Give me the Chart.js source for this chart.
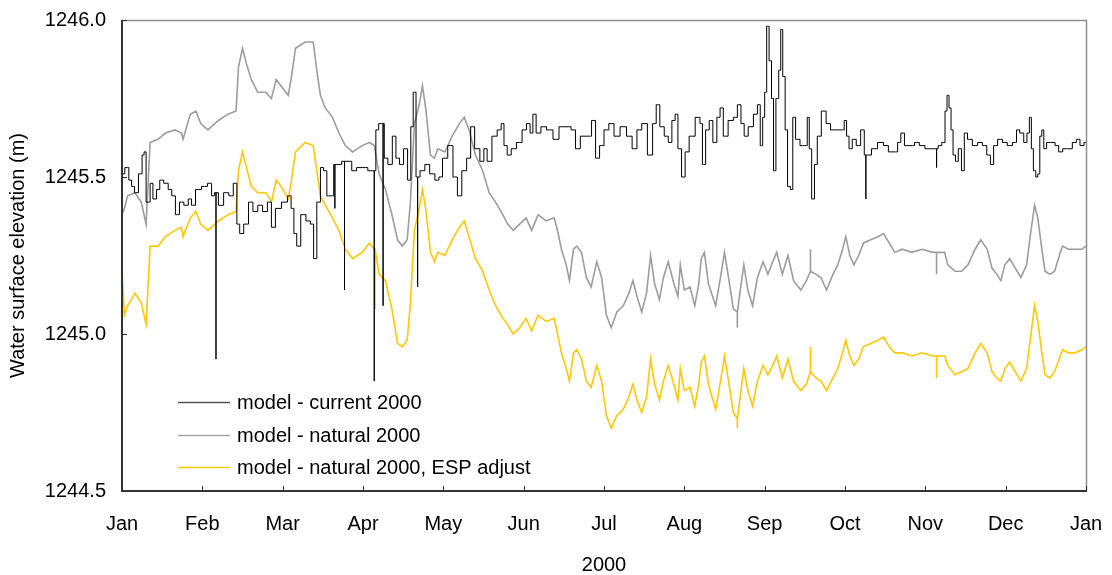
<!DOCTYPE html>
<html>
<head>
<meta charset="utf-8">
<title>Water surface elevation 2000</title>
<script src="https://cdn.jsdelivr.net/npm/chart.js@4.4.1/dist/chart.umd.min.js"></script>
<style>
  html, body { margin: 0; padding: 0; background: #fff; }
  canvas { display: block; }
</style>
</head>
<body>
<canvas id="levels" width="1112" height="575"></canvas>
<script>
// month ticks along the bottom (0 = 1 Jan 2000, 12 = 1 Jan 2001)
const monthLabels = ['Jan', 'Feb', 'Mar', 'Apr', 'May', 'Jun', 'Jul', 'Aug', 'Sep', 'Oct', 'Nov', 'Dec', 'Jan'];

// model - current 2000 (time in months, level in m)
const curT = [
  0.00, 0.07, 0.10, 0.14, 0.17, 0.24, 0.26, 0.29, 0.31, 0.34,
  0.36, 0.41, 0.45, 0.49, 0.55, 0.60, 0.64, 0.69, 0.74, 0.80,
  0.85, 0.88, 0.95, 1.03, 1.10, 1.13, 1.17, 1.23, 1.30, 1.36,
  1.41, 1.45, 1.48, 1.55, 1.60, 1.66, 1.72, 1.78, 1.84, 1.88,
  1.94, 2.03, 2.09, 2.12, 2.16, 2.19, 2.26, 2.32, 2.37, 2.40,
  2.45, 2.49, 2.53, 2.57, 2.62, 2.65, 2.70, 2.77, 2.83, 2.89,
  2.95, 3.03, 3.09, 3.14, 3.18, 3.21, 3.25, 3.28, 3.34, 3.39,
  3.43, 3.48, 3.53, 3.58, 3.61, 3.64, 3.68, 3.74, 3.80, 3.86,
  3.93, 3.96, 4.02, 4.09, 4.15, 4.20, 4.26, 4.32, 4.36, 4.42,
  4.49, 4.52, 4.57, 4.64, 4.70, 4.74, 4.77, 4.82, 4.87, 4.95,
  5.01, 5.06, 5.10, 5.13, 5.18, 5.25, 5.32, 5.41, 5.47, 5.56,
  5.62, 5.67, 5.74, 5.82, 5.87, 5.92, 5.97, 6.03, 6.09, 6.16,
  6.24, 6.32, 6.38, 6.44, 6.50, 6.58, 6.63, 6.67, 6.72, 6.78,
  6.82, 6.87, 6.90, 6.94, 6.99, 7.03, 7.09, 7.18, 7.21, 7.24,
  7.29, 7.33, 7.38, 7.43, 7.46, 7.51, 7.58, 7.64, 7.68, 7.73,
  7.76, 7.83, 7.89, 7.93, 7.96, 7.99, 8.01, 8.04, 8.07, 8.10,
  8.12, 8.16, 8.19, 8.21, 8.24, 8.27, 8.30, 8.34, 8.36, 8.41,
  8.47, 8.52, 8.54, 8.57, 8.60, 8.64, 8.67, 8.74, 8.79, 8.85,
  8.91, 8.97, 9.01, 9.03, 9.07, 9.11, 9.17, 9.22, 9.26, 9.30,
  9.36, 9.45, 9.51, 9.57, 9.63, 9.68, 9.71, 9.77, 9.84, 9.89,
  9.96, 10.03, 10.09, 10.14, 10.18, 10.23, 10.26, 10.28, 10.31, 10.33,
  10.36, 10.39, 10.43, 10.47, 10.50, 10.55, 10.62, 10.68, 10.74, 10.79,
  10.83, 10.87, 10.93, 10.99, 11.05, 11.12, 11.15, 11.20, 11.25, 11.28,
  11.31, 11.33, 11.36, 11.39, 11.41, 11.44, 11.46, 11.49, 11.53, 11.59,
  11.64, 11.68, 11.74, 11.80, 11.86, 11.90, 11.95, 12.00
];
const curV = [
  1245.51, 1245.53, 1245.49, 1245.47, 1245.45, 1245.51, 1245.57, 1245.58, 1245.42, 1245.42,
  1245.48, 1245.43, 1245.46, 1245.49, 1245.48, 1245.46, 1245.44, 1245.38, 1245.42, 1245.41,
  1245.43, 1245.41, 1245.46, 1245.47, 1245.48, 1245.44, 1245.45, 1245.41, 1245.45, 1245.44,
  1245.48, 1245.35, 1245.32, 1245.35, 1245.42, 1245.39, 1245.41, 1245.39, 1245.42, 1245.34,
  1245.40, 1245.42, 1245.44, 1245.40, 1245.32, 1245.28, 1245.38, 1245.36, 1245.35, 1245.24,
  1245.42, 1245.53, 1245.52, 1245.44, 1245.44, 1245.54, 1245.54, 1245.55, 1245.55, 1245.52,
  1245.53, 1245.53, 1245.52, 1245.52, 1245.65, 1245.67, 1245.67, 1245.56, 1245.54, 1245.63,
  1245.56, 1245.54, 1245.59, 1245.49, 1245.66, 1245.77, 1245.50, 1245.52, 1245.54, 1245.51,
  1245.49, 1245.50, 1245.56, 1245.60, 1245.50, 1245.44, 1245.52, 1245.56, 1245.66, 1245.59,
  1245.55, 1245.59, 1245.55, 1245.63, 1245.65, 1245.67, 1245.60, 1245.57, 1245.59, 1245.61,
  1245.65, 1245.67, 1245.64, 1245.70, 1245.64, 1245.66, 1245.65, 1245.62, 1245.66, 1245.66,
  1245.65, 1245.59, 1245.63, 1245.63, 1245.68, 1245.56, 1245.60, 1245.65, 1245.67, 1245.63,
  1245.66, 1245.63, 1245.59, 1245.65, 1245.67, 1245.57, 1245.67, 1245.73, 1245.66, 1245.63,
  1245.61, 1245.68, 1245.70, 1245.59, 1245.50, 1245.58, 1245.63, 1245.69, 1245.67, 1245.54,
  1245.65, 1245.68, 1245.61, 1245.69, 1245.72, 1245.63, 1245.68, 1245.69, 1245.73, 1245.67,
  1245.63, 1245.66, 1245.70, 1245.73, 1245.60, 1245.69, 1245.77, 1245.98, 1245.87, 1245.75,
  1245.52, 1245.75, 1245.84, 1245.97, 1245.82, 1245.65, 1245.47, 1245.46, 1245.69, 1245.62,
  1245.60, 1245.60, 1245.69, 1245.59, 1245.43, 1245.54, 1245.63, 1245.71, 1245.67, 1245.65,
  1245.65, 1245.65, 1245.68, 1245.63, 1245.59, 1245.62, 1245.60, 1245.65, 1245.57, 1245.57,
  1245.59, 1245.61, 1245.60, 1245.58, 1245.58, 1245.61, 1245.64, 1245.60, 1245.60, 1245.61,
  1245.60, 1245.59, 1245.59, 1245.59, 1245.60, 1245.61, 1245.71, 1245.76, 1245.72, 1245.65,
  1245.57, 1245.55, 1245.59, 1245.52, 1245.64, 1245.62, 1245.60, 1245.61, 1245.60, 1245.57,
  1245.54, 1245.60, 1245.62, 1245.61, 1245.60, 1245.61, 1245.65, 1245.64, 1245.61, 1245.64,
  1245.69, 1245.59, 1245.52, 1245.50, 1245.51, 1245.63, 1245.65, 1245.59, 1245.61, 1245.61,
  1245.60, 1245.58, 1245.59, 1245.59, 1245.61, 1245.62, 1245.60, 1245.61
];
// single-hour drops/jumps in the current run
const curSpikeT = [1.17, 2.65, 2.77, 3.14, 3.25, 3.68, 9.26, 10.14];
const curSpikeV = [1244.92, 1245.40, 1245.14, 1244.85, 1245.09, 1245.15, 1245.43, 1245.53];

// model - natural 2000 and the ESP-adjusted version share the same time steps
const natT = [
  0.00, 0.03, 0.07, 0.16, 0.24, 0.30, 0.35, 0.45, 0.54, 0.66,
  0.74, 0.76, 0.85, 0.92, 0.98, 1.07, 1.20, 1.32, 1.42, 1.45,
  1.50, 1.55, 1.61, 1.69, 1.79, 1.86, 1.92, 1.98, 2.07, 2.11,
  2.16, 2.28, 2.38, 2.43, 2.47, 2.53, 2.62, 2.70, 2.78, 2.87,
  2.99, 3.08, 3.14, 3.20, 3.28, 3.36, 3.43, 3.49, 3.55, 3.59,
  3.64, 3.70, 3.74, 3.78, 3.84, 3.89, 3.93, 4.02, 4.11, 4.20,
  4.26, 4.32, 4.40, 4.49, 4.57, 4.65, 4.74, 4.80, 4.87, 4.95,
  5.03, 5.10, 5.18, 5.28, 5.38, 5.43, 5.47, 5.53, 5.57, 5.62,
  5.66, 5.72, 5.78, 5.84, 5.91, 5.97, 6.03, 6.09, 6.16, 6.24,
  6.31, 6.36, 6.41, 6.47, 6.53, 6.58, 6.63, 6.69, 6.74, 6.80,
  6.87, 6.92, 6.95, 7.00, 7.07, 7.13, 7.18, 7.21, 7.25, 7.30,
  7.39, 7.45, 7.50, 7.55, 7.61, 7.66, 7.74, 7.79, 7.85, 7.91,
  7.98, 8.04, 8.10, 8.15, 8.22, 8.29, 8.36, 8.45, 8.52, 8.57,
  8.64, 8.70, 8.77, 8.85, 8.91, 8.97, 9.01, 9.06, 9.11, 9.17,
  9.23, 9.32, 9.41, 9.48, 9.55, 9.62, 9.71, 9.83, 9.96, 10.09,
  10.24, 10.28, 10.37, 10.45, 10.53, 10.62, 10.69, 10.77, 10.83, 10.89,
  10.94, 10.99, 11.05, 11.12, 11.19, 11.26, 11.31, 11.36, 11.40, 11.45,
  11.49, 11.55, 11.61, 11.68, 11.71, 11.78, 11.86, 11.95, 12.00
];
const natV = [
  1245.38, 1245.40, 1245.44, 1245.45, 1245.42, 1245.35, 1245.61, 1245.62, 1245.64, 1245.65,
  1245.64, 1245.62, 1245.70, 1245.71, 1245.67, 1245.65, 1245.68, 1245.70, 1245.71, 1245.85,
  1245.91, 1245.86, 1245.81, 1245.77, 1245.77, 1245.75, 1245.81, 1245.79, 1245.76, 1245.82,
  1245.91, 1245.93, 1245.93, 1245.83, 1245.76, 1245.72, 1245.69, 1245.64, 1245.60, 1245.58,
  1245.60, 1245.61, 1245.60, 1245.51, 1245.46, 1245.38, 1245.30, 1245.28, 1245.30, 1245.42,
  1245.67, 1245.73, 1245.79, 1245.72, 1245.57, 1245.56, 1245.59, 1245.58, 1245.63, 1245.67,
  1245.69, 1245.65, 1245.57, 1245.52, 1245.45, 1245.42, 1245.38, 1245.35, 1245.33, 1245.35,
  1245.37, 1245.33, 1245.38, 1245.36, 1245.37, 1245.32, 1245.27, 1245.22, 1245.17, 1245.27,
  1245.28, 1245.26, 1245.18, 1245.15, 1245.23, 1245.18, 1245.06, 1245.02, 1245.07, 1245.09,
  1245.13, 1245.17, 1245.12, 1245.07, 1245.13, 1245.25, 1245.16, 1245.11, 1245.18, 1245.23,
  1245.16, 1245.12, 1245.22, 1245.14, 1245.15, 1245.09, 1245.16, 1245.24, 1245.26, 1245.16,
  1245.09, 1245.18, 1245.26, 1245.18, 1245.08, 1245.07, 1245.22, 1245.14, 1245.09, 1245.18,
  1245.23, 1245.19, 1245.23, 1245.26, 1245.19, 1245.25, 1245.17, 1245.14, 1245.17, 1245.20,
  1245.19, 1245.18, 1245.14, 1245.19, 1245.22, 1245.27, 1245.31, 1245.25, 1245.22, 1245.25,
  1245.29, 1245.30, 1245.31, 1245.32, 1245.29, 1245.26, 1245.27, 1245.26, 1245.27, 1245.26,
  1245.26, 1245.22, 1245.20, 1245.20, 1245.22, 1245.27, 1245.30, 1245.27, 1245.21, 1245.19,
  1245.17, 1245.22, 1245.24, 1245.21, 1245.18, 1245.22, 1245.32, 1245.41, 1245.37, 1245.27,
  1245.20, 1245.19, 1245.20, 1245.26, 1245.28, 1245.27, 1245.27, 1245.27, 1245.28
];
const espV = [
  1245.20, 1245.06, 1245.09, 1245.13, 1245.10, 1245.03, 1245.28, 1245.28, 1245.31, 1245.33,
  1245.34, 1245.31, 1245.37, 1245.39, 1245.35, 1245.33, 1245.36, 1245.38, 1245.39, 1245.52,
  1245.58, 1245.53, 1245.47, 1245.45, 1245.45, 1245.42, 1245.49, 1245.47, 1245.43, 1245.49,
  1245.58, 1245.61, 1245.60, 1245.51, 1245.44, 1245.41, 1245.37, 1245.33, 1245.27, 1245.24,
  1245.26, 1245.29, 1245.27, 1245.19, 1245.17, 1245.08, 1244.97, 1244.96, 1244.98, 1245.10,
  1245.33, 1245.40, 1245.46, 1245.40, 1245.26, 1245.23, 1245.26, 1245.25, 1245.30, 1245.34,
  1245.36, 1245.31, 1245.24, 1245.20, 1245.14, 1245.09, 1245.05, 1245.03, 1245.00, 1245.02,
  1245.05, 1245.01, 1245.06, 1245.04, 1245.05, 1244.99, 1244.94, 1244.89, 1244.85, 1244.94,
  1244.95, 1244.92, 1244.85, 1244.83, 1244.90, 1244.85, 1244.74, 1244.70, 1244.74, 1244.76,
  1244.80, 1244.84, 1244.79, 1244.75, 1244.80, 1244.92, 1244.84, 1244.79, 1244.85, 1244.90,
  1244.84, 1244.79, 1244.89, 1244.82, 1244.83, 1244.77, 1244.84, 1244.91, 1244.93, 1244.84,
  1244.76, 1244.85, 1244.93, 1244.85, 1244.75, 1244.73, 1244.89, 1244.82, 1244.77, 1244.85,
  1244.90, 1244.87, 1244.90, 1244.93, 1244.86, 1244.92, 1244.85, 1244.82, 1244.84, 1244.88,
  1244.86, 1244.85, 1244.82, 1244.86, 1244.89, 1244.94, 1244.98, 1244.93, 1244.90, 1244.92,
  1244.96, 1244.97, 1244.98, 1244.99, 1244.96, 1244.94, 1244.94, 1244.93, 1244.94, 1244.93,
  1244.93, 1244.90, 1244.87, 1244.88, 1244.89, 1244.94, 1244.97, 1244.94, 1244.88, 1244.86,
  1244.85, 1244.89, 1244.91, 1244.88, 1244.85, 1244.89, 1244.99, 1245.09, 1245.04, 1244.94,
  1244.87, 1244.86, 1244.88, 1244.93, 1244.95, 1244.94, 1244.94, 1244.95, 1244.96
];
const natSpikeT = [7.66, 8.57, 10.14];
const natSpikeV = [1245.02, 1245.27, 1245.19];
const espSpikeT = [3.15, 7.66, 8.57, 10.14];
const espSpikeV = [1245.08, 1244.70, 1244.96, 1244.86];

// turn a time/level pair of arrays into {x, y} points and drop the
// one-step spikes in as vertical excursions from the running level
function series(ts, vs, spikeT, spikeV) {
  const pts = ts.map((t, i) => ({ x: t, y: vs[i] }));
  spikeT.forEach((t, k) => {
    let i = pts.findIndex(p => p.x > t);
    if (i < 0) i = pts.length;
    const base = pts[i - 1].y;
    pts.splice(i, 0, { x: t, y: base }, { x: t, y: spikeV[k] }, { x: t, y: base });
  });
  return pts;
}

const FONT = "'Liberation Sans', Arial, sans-serif";

// frame: thin grey top/right, dark left/bottom axes, short inward ticks
const frame = {
  id: 'frame',
  afterDatasetsDraw(chart) {
    const { ctx, chartArea: a, scales } = chart;
    ctx.save();
    ctx.strokeStyle = '#8e8e8e';
    ctx.lineWidth = 1.5;
    ctx.beginPath();
    ctx.moveTo(a.left, a.top + 0.5);
    ctx.lineTo(a.right + 0.5, a.top + 0.5);
    ctx.lineTo(a.right + 0.5, a.bottom);
    ctx.stroke();

    ctx.strokeStyle = '#333';
    ctx.lineWidth = 2;
    ctx.beginPath();
    ctx.moveTo(a.left, a.top);
    ctx.lineTo(a.left, a.bottom);
    ctx.lineTo(a.right + 1, a.bottom);
    ctx.stroke();

    ctx.lineWidth = 1;
    ctx.beginPath();
    scales.x.ticks.forEach(t => {
      const px = Math.round(scales.x.getPixelForValue(t.value)) + 0.5;
      ctx.moveTo(px, a.bottom);
      ctx.lineTo(px, a.bottom - 5);
    });
    scales.y.ticks.forEach(t => {
      const py = Math.round(scales.y.getPixelForValue(t.value)) + 0.5;
      ctx.moveTo(a.left, py);
      ctx.lineTo(a.left + 5, py);
    });
    ctx.stroke();
    ctx.restore();
  }
};

// legend sits inside the plot, lower left
const insetLegend = {
  id: 'insetLegend',
  afterDraw(chart) {
    const { ctx, chartArea: a } = chart;
    const rows = [a.bottom - 89, a.bottom - 56, a.bottom - 24];
    ctx.save();
    ctx.font = '20px ' + FONT;
    ctx.textBaseline = 'middle';
    ctx.fillStyle = '#000';
    chart.data.datasets.forEach((ds, i) => {
      const y = Math.round(rows[i]) + 0.5;
      ctx.strokeStyle = ds.legendColor;
      ctx.lineWidth = 1.4;
      ctx.beginPath();
      ctx.moveTo(a.left + 56, y);
      ctx.lineTo(a.left + 108, y);
      ctx.stroke();
      ctx.fillText(ds.label, a.left + 115, y + 1);
    });
    ctx.restore();
  }
};

new Chart(document.getElementById('levels'), {
  type: 'line',
  data: {
    datasets: [
      {
        label: 'model - current 2000',
        data: series(curT, curV, curSpikeT, curSpikeV),
        borderColor: '#000',
        legendColor: '#555',
        borderWidth: 1,
        stepped: 'middle'
      },
      {
        label: 'model - natural 2000',
        data: series(natT, natV, natSpikeT, natSpikeV),
        borderColor: '#9d9d9d',
        legendColor: '#a8a8a8',
        borderWidth: 1.6
      },
      {
        label: 'model - natural 2000, ESP adjust',
        data: series(natT, espV, espSpikeT, espSpikeV),
        borderColor: '#ffc800',
        legendColor: '#ffc800',
        borderWidth: 1.6
      }
    ]
  },
  options: {
    responsive: false,
    animation: false,
    devicePixelRatio: 1,
    parsing: false,
    layout: { padding: { top: 9, right: 26, left: 0, bottom: 0 } },
    elements: { point: { radius: 0 }, line: { tension: 0 } },
    plugins: { legend: { display: false }, tooltip: { enabled: false } },
    scales: {
      x: {
        type: 'linear',
        min: 0,
        max: 12,
        afterFit(s) {
          s.height = 84;
          s.paddingRight = 0;
        },
        border: { display: false },
        grid: { display: false },
        ticks: {
          stepSize: 1,
          autoSkip: false,
          maxRotation: 0,
          padding: 13,
          color: '#000',
          font: { family: FONT, size: 20 },
          callback: v => monthLabels[v]
        },
        title: {
          display: true,
          text: '2000',
          color: '#000',
          padding: 0,
          font: { family: FONT, size: 20, lineHeight: 1 }
        }
      },
      y: {
        min: 1244.5,
        max: 1246.0,
        afterFit(s) { s.width = 122; },
        border: { display: false },
        grid: { display: false },
        ticks: {
          stepSize: 0.5,
          padding: 8,
          color: '#000',
          font: { family: FONT, size: 20 },
          callback: v => Number(v).toFixed(1)
        },
        title: {
          display: true,
          text: 'Water surface elevation (m)',
          color: '#000',
          padding: { top: 8, bottom: 0 },
          font: { family: FONT, size: 20, lineHeight: 1 }
        }
      }
    }
  },
  plugins: [frame, insetLegend]
});
</script>
</body>
</html>
